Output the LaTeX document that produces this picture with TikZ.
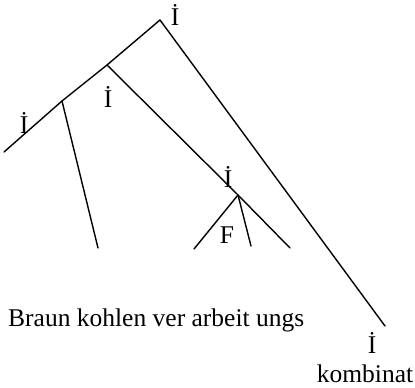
\documentclass[tikz,border=0pt]{standalone}
\usepackage{fontspec}
\setmainfont{Liberation Serif}
\begin{document}
\begin{tikzpicture}[x=1pt,y=-1pt,
  branch/.style={line width=1.4pt,line cap=round},
  lbl/.style={inner sep=0pt,anchor=base,font=\fontsize{25.5}{30}\selectfont}]
\useasboundingbox (0,0) rectangle (415,388);
\coordinate (r) at (160,20);
\coordinate (a) at (107,65);
\coordinate (b) at (62,101);
\coordinate (l) at (4,152);
\coordinate (bl) at (98,248);
\coordinate (j) at (238,195);
\coordinate (jl) at (194,249);
\coordinate (jm) at (251,246);
\coordinate (jr) at (290,248);
\coordinate (rr) at (385,326);
\draw[branch] (r) -- (a) -- (b) -- (l);
\draw[branch] (b) -- (bl);
\draw[branch] (a) -- (j) -- (jr);
\draw[branch] (j) -- (jl);
\draw[branch] (j) -- (jm);
\draw[branch] (r) -- (rr);
\node[lbl] (t1) at (175,25) {İ};
\node[lbl] (t2) at (108,107) {İ};
\node[lbl] (t3) at (24,133) {İ};
\node[lbl] (t4) at (228,187) {İ};
\node[lbl] (t5) at (227,243) {F};
\node[lbl] (t6) at (372,353) {İ};
\node[lbl] (t7) at (365,382) {kombinat};
\node[lbl,anchor=base west] (t8) at (8,326) {Braun kohlen ver arbeit ungs};
\end{tikzpicture}
\end{document}
